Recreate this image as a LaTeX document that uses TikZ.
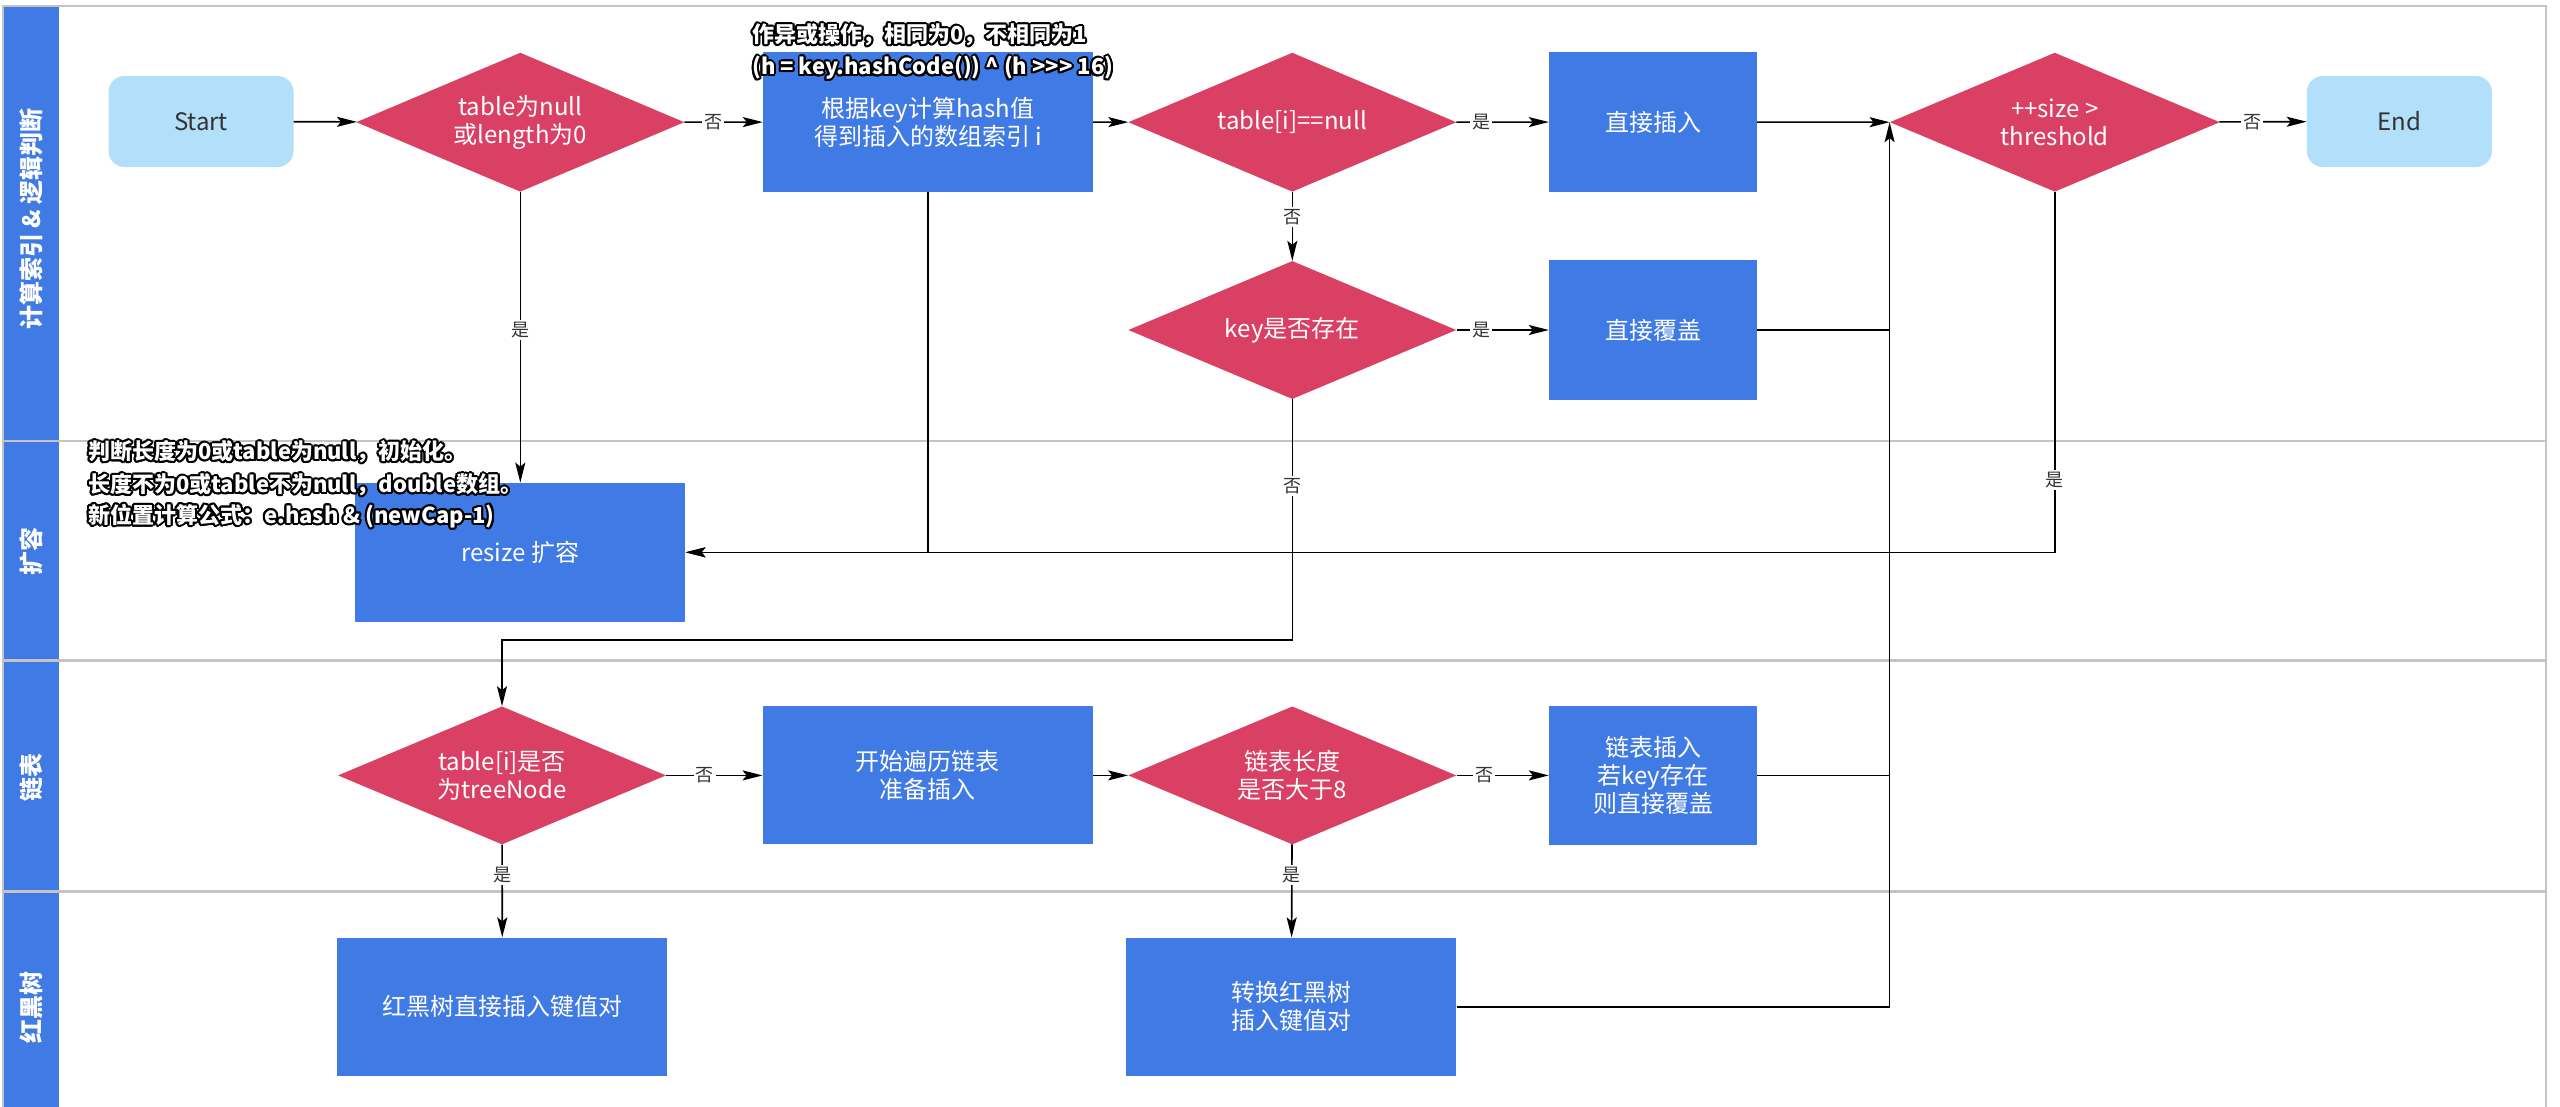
\documentclass[tikz,border=0pt]{standalone}
\usepackage{fontspec}
\setmainfont{Noto Sans CJK SC}
\usetikzlibrary{shapes.geometric,arrows.meta,calc}
\definecolor{boxblue}{HTML}{407AE4}
\definecolor{dred}{HTML}{D94063}
\definecolor{lblue}{HTML}{B2DFFA}
\definecolor{sepgray}{HTML}{C4C4C4}
\definecolor{txtdark}{HTML}{333333}
\newcommand{\pxsize}[2]{\fontsize{#1}{#2}\selectfont}
\newcommand{\outlined}[3]{%
  \foreach \ang in {0,24,...,336}{
    \node[anntext, text=black] (#1-\ang) at ($(#2)+(\ang:2)$) {#3};
  }
  \node[anntext, text=white] (#1) at (#2) {#3};
}
\begin{document}
\begin{tikzpicture}[x=1pt,y=-1pt,
  box/.style={rectangle, fill=boxblue, text=white, inner sep=0pt, align=center,
    minimum width=330pt, minimum height=139pt, font=\pxsize{24}{28}},
  nbox/.style={box, minimum width=208pt, minimum height=140pt},
  dec/.style={diamond, fill=dred, text=white, inner sep=0pt, aspect=2.35, align=center,
    minimum width=328pt, minimum height=139pt, font=\pxsize{24}{28}},
  term/.style={rectangle, rounded corners=16pt, fill=lblue, text=txtdark, inner sep=0pt,
    minimum width=185pt, minimum height=91pt, font=\pxsize{24}{28}},
  arr/.style={draw=black, line width=1.6pt, -{Stealth[length=20pt,width=10pt,inset=4pt]}},
  ln/.style={draw=black, line width=1.6pt},
  lbl/.style={fill=white, inner sep=2pt, text=txtdark, font=\pxsize{18}{18}},
  lanehead/.style={fill=boxblue},
  lanetxt/.style={rotate=90, text=white, inner sep=0pt, font=\bfseries\pxsize{24}{24}},
  anntext/.style={anchor=west, inner sep=0pt, font=\bfseries\pxsize{22}{22}}
]
\useasboundingbox (0,0) rectangle (2560,1106);
\fill[white] (0,0) rectangle (2560,1106);
\clip (0,0) rectangle (2560,1106);

% swimlane frame and headers
\fill[lanehead] (4,7) rectangle (59,440);
\fill[lanehead] (4,442) rectangle (59,659);
\fill[lanehead] (4,662) rectangle (59,890);
\fill[lanehead] (4,893) rectangle (59,1130);
\draw[sepgray, line width=2pt] (3,1130) -- (3,6) -- (2546,6) -- (2546,1130);
\draw[sepgray, line width=2.2pt] (3,441) -- (2546,441);
\draw[sepgray, line width=2.2pt] (3,660.5) -- (2546,660.5);
\draw[sepgray, line width=2.2pt] (3,891.5) -- (2546,891.5);
\node[lanetxt] (h1) at (31,219) {计算索引 \& 逻辑判断};
\node[lanetxt] (h2) at (31,551) {扩容};
\node[lanetxt] (h3) at (31,777) {链表};
\node[lanetxt] (h4) at (31,1007) {红黑树};

% nodes
\node[term] (start) at (201,121.5) {Start};
\node[dec] (d1) at (520.3,122.2) {table为null\\或length为0};
\node[box, minimum height=140pt] (b1) at (928,122) {根据key计算hash值\\得到插入的数组索引 i};
\node[dec] (d2) at (1292.3,122.2) {table[i]==null};
\node[nbox] (bins) at (1653,122) {直接插入};
\node[dec, minimum width=330pt] (d3) at (2054.8,122.2) {++size >\\threshold};
\node[term] (end) at (2399.4,121.5) {End};
\node[dec, minimum height=138pt] (dkey) at (1292.3,330) {key是否存在};
\node[nbox] (bcov) at (1653,330) {直接覆盖};
\node[box] (resize) at (520.3,552.3) {resize 扩容};
\node[dec, minimum height=138pt] (dtree) at (502,775.4) {table[i]是否\\为treeNode};
\node[box, minimum height=138pt] (btrav) at (927.8,775.4) {开始遍历链表\\准备插入};
\node[dec, minimum height=138pt] (dlen) at (1292.3,775.4) {链表长度\\是否大于8};
\node[nbox, minimum height=139.5pt] (blink) at (1653,775.4) {链表插入\\若key存在\\则直接覆盖};
\node[box, minimum height=138.5pt] (brb) at (502.4,1006.8) {红黑树直接插入键值对};
\node[box, minimum height=138.5pt] (bconv) at (1291.3,1006.8) {转换红黑树\\插入键值对};

% helper coordinates
\coordinate (k1) at (1292.3,640);
\coordinate (k2) at (502,640);

% connectors
\draw[arr] (start) -- (d1);
\draw[arr] (d1) -- node[lbl, pos=0.37] (l1) {否} (b1);
\draw[arr] (b1) -- (d2);
\draw[arr] (d2) -- node[lbl, pos=0.27] (l2) {是} (bins);
\draw[arr] (bins) -- (d3.west);
\draw[arr] (d3) -- node[lbl, pos=0.38] (l3) {否} (end);
\draw[arr] (d2) -- node[lbl, pos=0.365] (l4) {否} (dkey);
\draw[arr] (dkey) -- node[lbl, pos=0.27] (l5) {是} (bcov);
\draw[ln] (bcov.east) -- (bcov.east -| d3.west);
\draw[arr] (d1) -- node[lbl, pos=0.475] (l6) {是} (resize);
\draw[arr] (b1.south) |- (resize.east);
\draw[arr] (d3.south) |- node[lbl, pos=0.40] (l7) {是} (resize.east);
\draw[arr] (dkey.south) -- node[lbl, pos=0.36] (l8) {否} (k1) -- (k2) -- (dtree.north);
\draw[arr] (dtree) -- node[lbl, pos=0.4] (l9) {否} (btrav);
\draw[arr] (btrav) -- (dlen);
\draw[arr] (dlen) -- node[lbl, pos=0.3] (l10) {否} (blink);
\draw[ln] (blink.east) -- (blink.east -| d3.west);
\draw[arr] (dtree) -- node[lbl, pos=0.33] (l11) {是} (brb);
\draw[arr] (dlen) -- node[lbl, pos=0.33] (l12) {是} (bconv);
\draw[arr] (bconv.east) -| (d3.west);

% annotations (white text with dark outline)
\outlined{a1}{752,35}{作异或操作，相同为0，不相同为1}
\outlined{a2}{752,68}{(h = key.hashCode()) \textasciicircum{} (h >{}>{}> 16)}
\outlined{a3}{88,452}{判断长度为0或table为null，初始化。}
\outlined{a4}{88,485}{长度不为0或table不为null，double数组。}
\outlined{a5}{88,516}{新位置计算公式：e.hash \& (newCap-1)}
\end{tikzpicture}
\end{document}
